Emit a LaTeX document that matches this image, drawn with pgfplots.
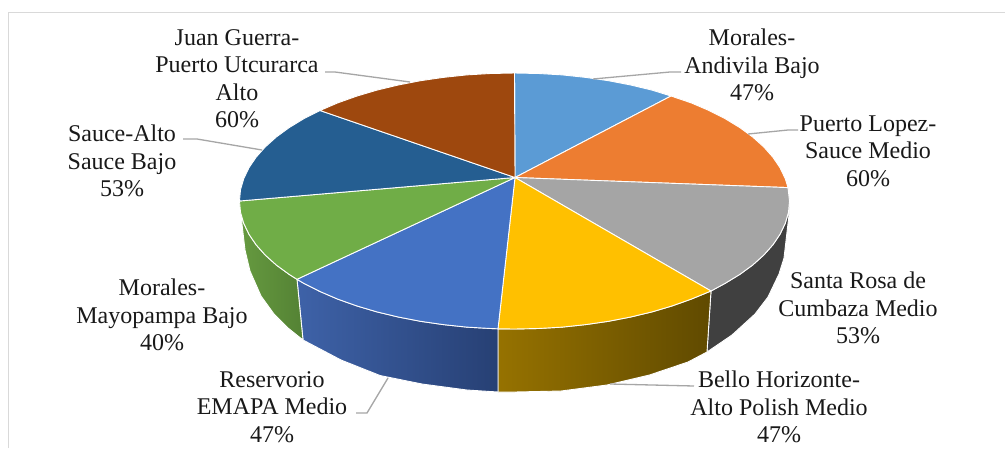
\documentclass[border=0pt]{standalone}
\usepackage{pgfplots}
\pgfplotsset{compat=1.18}
\usepackage{fontspec}
\setmainfont{Liberation Serif}
\definecolor{sliceA}{HTML}{5B9BD5}
\definecolor{sliceB}{HTML}{ED7D31}
\definecolor{sliceC}{HTML}{A5A5A5}
\definecolor{sliceD}{HTML}{FFC000}
\definecolor{sliceE}{HTML}{4472C4}
\definecolor{sliceF}{HTML}{70AD47}
\definecolor{sliceG}{HTML}{255E91}
\definecolor{sliceH}{HTML}{9E480E}
\definecolor{frameGray}{HTML}{D9D9D9}
\definecolor{leaderGray}{HTML}{A6A6A6}
\tikzset{pielabel/.style={font=\fontsize{24}{27.5}\selectfont, align=center, text=black!90, inner sep=0pt}}
\begin{document}
\begin{tikzpicture}
\begin{axis}[
  scale only axis, width=1005pt, height=448pt,
  xmin=0, xmax=1005, ymin=0, ymax=448, y dir=reverse,
  hide axis, clip=true,
  pie edge/.style={draw=white, line width=0.9pt, line join=round},
]
% page background and chart frame
\addplot[fill=white, draw=none] coordinates {(0,0) (1005,0) (1005,448) (0,448)} --cycle;
\addplot[frameGray, line width=1pt] coordinates {(8.5,448) (8.5,12.5) (1005,12.5)};

% outer wall of the pie
\addplot[fill=black!75, draw=white, line width=0.9pt] coordinates {
  (711,291) (725.2,283.3) (739.8,274.4) (752.7,265) (763.7,255.1) (772.9,244.8)
  (780.1,234.1) (785.3,223.2) (788.5,212.2) (789.5,201)
  (789,215) (787,232) (784,258) (779,274) (768,297) (755,314) (732,335) (707,352)} --cycle;
\addplot[left color={rgb,255:red,150;green,114;blue,0}, right color={rgb,255:red,96;green,74;blue,0}, pie edge] coordinates {
  (711,291) (691.3,299.1) (672.2,305.9) (652,311.9) (630.7,317) (608.5,321.3) (585.7,324.6)
  (562.3,327.1) (538.5,328.5) (514.5,329) (498,328.8)
  (498,392) (514.5,392) (561,391) (607,385) (649.5,375) (688,362) (707,352)} --cycle;
\addplot[left color={rgb,255:red,62;green,98;blue,168}, right color={rgb,255:red,39;green,64;blue,116}, pie edge] coordinates {
  (498,328.8) (490.5,328.5) (466.7,327.1) (443.3,324.6) (420.5,321.3) (398.3,317) (377,311.9)
  (356.8,305.9) (337.7,299.1) (320,291.5) (303.8,283.3) (297,279.3)
  (303,340) (341,360) (380,375.5) (422,384) (467,390) (498,392)} --cycle;
\addplot[left color={rgb,255:red,102;green,154;blue,64}, right color={rgb,255:red,84;green,130;blue,52}, pie edge] coordinates {
  (297,279.3) (289.2,274.4) (276.3,265) (265.3,255.1) (256.1,244.8) (248.9,234.1) (243.7,223.2)
  (240.5,212.2) (239.5,201)
  (240.5,208) (242,224) (245,250) (250,271) (261,296) (274,314) (288,328) (303,340)} --cycle;

% top face, clockwise from twelve o'clock
\addplot[fill=sliceA, pie edge] coordinates {
  (515,177.5) (514.5,73) (538.5,73.5) (562.3,74.9) (585.7,77.4) (608.5,80.7) (630.7,85) (652,90.1) (671,96)} --cycle;
\addplot[fill=sliceB, pie edge] coordinates {
  (515,177.5) (671,96) (691.3,102.9) (709,110.5) (725.2,118.7) (739.8,127.6) (752.7,137) (763.7,146.9)
  (772.9,157.2) (780.1,167.9) (785.3,178.8) (788,187.6)} --cycle;
\addplot[fill=sliceC, pie edge] coordinates {
  (515,177.5) (788,187.6) (789.5,201) (788.5,212.2) (785.3,223.2) (780.1,234.1) (772.9,244.8) (763.7,255.1)
  (752.7,265) (739.8,274.4) (725.2,283.3) (711,291)} --cycle;
\addplot[fill=sliceD, pie edge] coordinates {
  (515,177.5) (711,291) (691.3,299.1) (672.2,305.9) (652,311.9) (630.7,317) (608.5,321.3) (585.7,324.6)
  (562.3,327.1) (538.5,328.5) (514.5,329) (498,328.8)} --cycle;
\addplot[fill=sliceE, pie edge] coordinates {
  (515,177.5) (498,328.8) (490.5,328.5) (466.7,327.1) (443.3,324.6) (420.5,321.3) (398.3,317) (377,311.9)
  (356.8,305.9) (337.7,299.1) (320,291.5) (303.8,283.3) (297,279.3)} --cycle;
\addplot[fill=sliceF, pie edge] coordinates {
  (515,177.5) (297,279.3) (289.2,274.4) (276.3,265) (265.3,255.1) (256.1,244.8) (248.9,234.1) (243.7,223.2)
  (240.5,212.2) (239.5,201)} --cycle;
\addplot[fill=sliceG, pie edge] coordinates {
  (515,177.5) (239.5,201) (240.5,189.8) (243.7,178.8) (248.9,167.9) (256.1,157.2) (265.3,146.9) (276.3,137)
  (289.2,127.6) (303.8,118.7) (320,110.5)} --cycle;
\addplot[fill=sliceH, pie edge] coordinates {
  (515,177.5) (320,110.5) (337.7,102.9) (356.8,96.1) (377,90.1) (398.3,85) (420.5,80.7) (443.3,77.4)
  (466.7,74.9) (490.5,73.5) (514.5,73)} --cycle;

% leader lines
\addplot[leaderGray, line width=1.3pt] coordinates {(681,72) (670,72) (593,79)};
\addplot[leaderGray, line width=1.3pt] coordinates {(798,130) (788,130) (748,134)};
\addplot[leaderGray, line width=1.3pt] coordinates {(325,72) (335,72) (410,82)};
\addplot[leaderGray, line width=1.3pt] coordinates {(183,139) (197,139) (262,150)};
\addplot[leaderGray, line width=1.3pt] coordinates {(356,413) (367,413) (388,378)};
\addplot[leaderGray, line width=1.3pt] coordinates {(694,386) (610,384)};

% data labels
\node[pielabel] at (axis cs:752,65) {Morales-\\Andivila Bajo\\47\%};
\node[pielabel] at (axis cs:868,151) {Puerto Lopez-\\Sauce Medio\\60\%};
\node[pielabel] at (axis cs:858,308) {Santa Rosa de\\Cumbaza Medio\\53\%};
\node[pielabel] at (axis cs:779,407) {Bello Horizonte-\\Alto Polish Medio\\47\%};
\node[pielabel] at (axis cs:272,407) {Reservorio\\EMAPA Medio\\47\%};
\node[pielabel] at (axis cs:162,315) {Morales-\\Mayopampa Bajo\\40\%};
\node[pielabel] at (axis cs:122,161) {Sauce-Alto\\Sauce Bajo\\53\%};
\node[pielabel] at (axis cs:237,78.5) {Juan Guerra-\\Puerto Utcurarca\\Alto\\60\%};
\end{axis}
\end{tikzpicture}
\end{document}
